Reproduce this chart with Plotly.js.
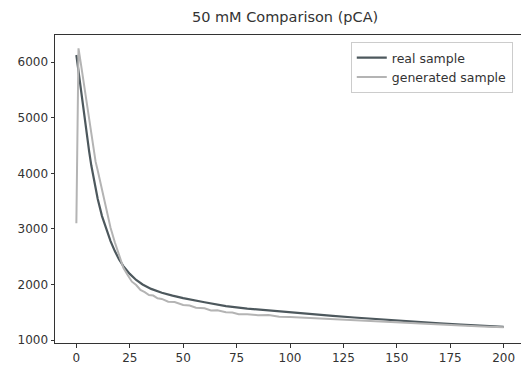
<!DOCTYPE html>
<html>
<head>
<meta charset="utf-8">
<script src="https://cdn.plot.ly/plotly-3.0.1.min.js"></script>
<style>
html,body{margin:0;padding:0;overflow:hidden;background:#fff;}
#chart{width:525px;height:367px;}
</style>
</head>
<body>
<div id="chart"></div>
<script>
// Real sample
const realX = [0,1,2,3,4,5,6,7,8,9,10,12,14,16,18,20,22,25,28,31,35,40,45,50,60,70,80,90,100,110,120,130,140,150,160,170,180,190,200];
const realY = [6130,5830,5530,5220,4920,4640,4390,4140,3920,3720,3540,3230,2990,2780,2600,2450,2330,2190,2080,2000,1920,1850,1800,1755,1680,1610,1565,1530,1500,1465,1435,1405,1375,1345,1320,1298,1278,1258,1238];

// Generated sample
const genX = [0,1,2,3,4,5,6,7,8,9,10,12,14,16,18,20,22,24,26,28,30,32,34,36,38,40,43,46,50,53,56,60,63,66,70,73,76,80,85,90,95,100,105,110,115,120,125,130,140,150,160,170,180,190,200];
const genY = [3100,6250,6000,5750,5460,5200,4920,4660,4420,4210,4050,3700,3350,3020,2760,2510,2300,2170,2050,1990,1900,1860,1810,1800,1750,1740,1690,1685,1630,1620,1580,1570,1530,1535,1500,1495,1465,1465,1445,1450,1420,1415,1405,1395,1380,1372,1360,1350,1332,1312,1295,1278,1260,1245,1230];

const realTrace = {
  x: realX, y: realY, type: 'scatter', mode: 'lines', name: 'real sample',
  line: {color: '#4d585d', width: 2.2}
};
const genTrace = {
  x: genX, y: genY, type: 'scatter', mode: 'lines', name: 'generated sample',
  line: {color: '#b4b4b4', width: 2}
};

const fontFam = 'DejaVu Sans, sans-serif';
const layout = {
  width: 525, height: 367,
  margin: {l: 55, r: 0, t: 35, b: 24},
  paper_bgcolor: '#fff', plot_bgcolor: '#fff',
  title: {text: '50 mM Comparison (pCA)', font: {family: fontFam, size: 14.5, color: '#333'}, x: 0.543, xanchor: 'center', y: 0.955, yanchor: 'middle'},
  showlegend: true,
  legend: {
    x: 0.974, y: 0.977, xanchor: 'right', yanchor: 'top',
    bgcolor: 'rgba(255,255,255,0.8)', bordercolor: '#cccccc', borderwidth: 1,
    font: {family: fontFam, size: 12.5, color: '#333'},
    tracegroupgap: 0, itemwidth: 30
  },
  xaxis: {
    range: [-10, 210], tickvals: [0,25,50,75,100,125,150,175,200],
    showgrid: false, zeroline: false, showline: true, mirror: true, linecolor: '#333', linewidth: 1,
    ticks: 'outside', ticklen: 3.5, tickcolor: '#333',
    tickfont: {family: fontFam, size: 12, color: '#333'}
  },
  yaxis: {
    range: [946, 6490], tickvals: [1000,2000,3000,4000,5000,6000],
    showgrid: false, zeroline: false, showline: true, mirror: true, linecolor: '#333', linewidth: 1,
    ticks: 'outside', ticklen: 3.5, tickcolor: '#333',
    tickfont: {family: fontFam, size: 12, color: '#333'}
  }
};

Plotly.newPlot('chart', [realTrace, genTrace], layout, {displayModeBar: false, staticPlot: true});
</script>
</body>
</html>
